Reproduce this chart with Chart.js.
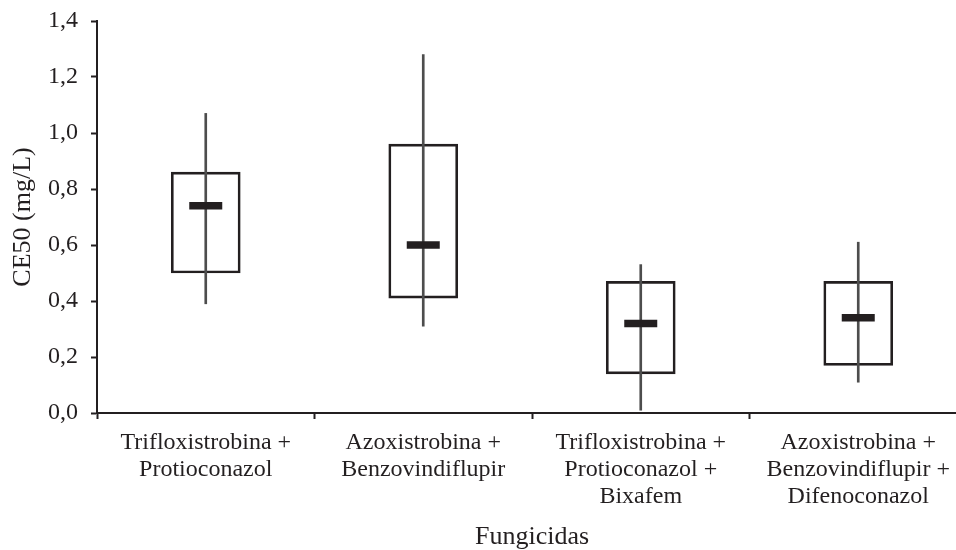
<!DOCTYPE html>
<html>
<head>
<meta charset="utf-8">
<script src="https://cdn.jsdelivr.net/npm/chart.js@4.4.1/dist/chart.umd.min.js"></script>
<style>
  html, body { margin: 0; padding: 0; overflow: hidden; background: #ffffff; }
  #wrap { position: relative; width: 975px; height: 550px; }
</style>
</head>
<body>
<div id="wrap"><canvas id="chart"></canvas></div>
<script>
// Fungicide treatments (category axis labels, one line per array entry)
const categories = [
  ["Trifloxistrobina +", "Protioconazol"],
  ["Azoxistrobina +", "Benzovindiflupir"],
  ["Trifloxistrobina +", "Protioconazol +", "Bixafem"],
  ["Azoxistrobina +", "Benzovindiflupir +", "Difenoconazol"]
];

// CE50 (mg/L) summary per treatment
const boxLow      = [0.50, 0.41, 0.14, 0.17];
const boxHigh     = [0.86, 0.96, 0.47, 0.47];
const medianValue = [0.74, 0.60, 0.32, 0.34];
const whiskerLow  = [0.39, 0.31, 0.01, 0.11];
const whiskerHigh = [1.07, 1.28, 0.53, 0.61];

// Y axis range and step
const yMin = 0;
const yMax = 1.4;
const yStep = 0.2;

const ink = '#231f20';
const serif = "'Liberation Serif', 'Times New Roman', serif";

const boxData = boxLow.map((lo, i) => [lo, boxHigh[i]]);
const whiskerData = whiskerLow.map((lo, i) => [lo, whiskerHigh[i]]);

new Chart(document.getElementById('chart'), {
  type: 'bar',
  data: {
    labels: categories,
    datasets: [
      {
        type: 'line',
        label: 'Mediana',
        data: medianValue,
        showLine: false,
        pointStyle: 'line',
        pointRadius: 16.5,
        pointHoverRadius: 16.5,
        pointBorderWidth: 7.5,
        pointHoverBorderWidth: 7.5,
        pointBorderColor: ink,
        pointBackgroundColor: ink,
        clip: false,
        order: 0
      },
      {
        label: 'Amplitude',
        data: whiskerData,
        grouped: false,
        barThickness: 2,
        backgroundColor: '#4d4d4d',
        borderWidth: 0,
        order: 1
      },
      {
        label: 'Intervalo',
        data: boxData,
        grouped: false,
        barThickness: 69,
        backgroundColor: 'rgba(255,255,255,0)',
        borderColor: ink,
        borderWidth: 2,
        borderSkipped: false,
        order: 2
      }
    ]
  },
  options: {
    responsive: true,
    maintainAspectRatio: false,
    animation: false,
    events: [],
    layout: { autoPadding: false, padding: { top: 21, right: 8, bottom: 0, left: 0 } },
    plugins: {
      legend: { display: false },
      tooltip: { enabled: false }
    },
    scales: {
      x: {
        type: 'category',
        offset: true,
        border: { display: true, color: ink, width: 2 },
        grid: {
          display: true,
          offset: true,
          drawOnChartArea: false,
          drawTicks: true,
          tickLength: 6,
          tickWidth: 2,
          tickColor: ink,
          color: ink
        },
        ticks: {
          color: ink,
          padding: 10,
          maxRotation: 0,
          autoSkip: false,
          font: { family: serif, size: 24, lineHeight: 1.125 }
        },
        title: {
          display: true,
          text: 'Fungicidas',
          color: ink,
          padding: { top: 0, bottom: 0 },
          font: { family: serif, size: 26, lineHeight: 1.0 }
        },
        afterFit: (scale) => { scale.height = 137; }
      },
      y: {
        min: yMin,
        max: yMax,
        border: { display: true, color: ink, width: 2 },
        grid: {
          display: true,
          drawOnChartArea: false,
          drawTicks: true,
          tickLength: 6,
          tickWidth: 2,
          tickColor: ink,
          color: ink
        },
        ticks: {
          stepSize: yStep,
          color: ink,
          padding: 13,
          font: { family: serif, size: 24 },
          callback: (v) => Number(v).toFixed(1).replace('.', ',')
        },
        title: {
          display: true,
          text: 'CE50 (mg/L)',
          color: ink,
          padding: { top: 8, bottom: 0 },
          font: { family: serif, size: 26, lineHeight: 1.2 }
        },
        afterFit: (scale) => {
          scale.width = 97;
          scale.paddingTop = 0;
          scale.paddingBottom = 0;
        }
      }
    }
  }
});
</script>
</body>
</html>
